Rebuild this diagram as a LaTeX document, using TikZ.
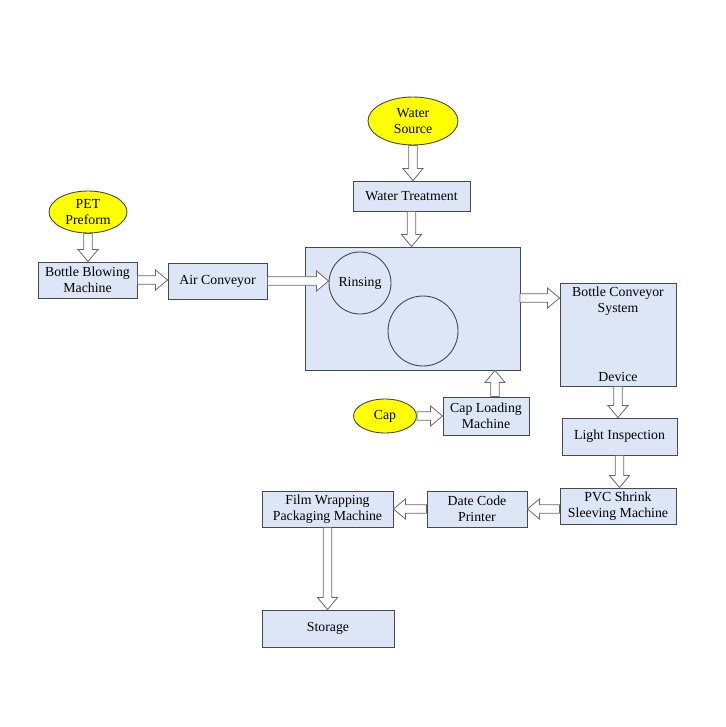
\documentclass[tikz,border=0pt]{standalone}
\usepackage{fontspec}
\setmainfont{Liberation Serif}
\usetikzlibrary{shapes.geometric}
\usetikzlibrary{calc}

\definecolor{boxfill}{RGB}{221,230,246}
\definecolor{boxline}{RGB}{72,72,72}
\definecolor{arrowline}{RGB}{105,105,105}
\definecolor{sourcefill}{RGB}{255,255,0}

\begin{document}
\begin{tikzpicture}[x=1pt,y=-1pt,
font=\fontsize{13.8}{16.5}\selectfont,
box/.style={draw=boxline,fill=boxfill,line width=0.9pt,align=center,inner sep=1pt},
source/.style={ellipse,draw=boxline,fill=sourcefill,line width=0.9pt,align=center,inner sep=0pt},
station/.style={circle,draw=boxline,line width=0.9pt,inner sep=0pt},
hollow/.style={draw=arrowline,fill=white,line width=0.8pt,line join=miter,
  to path={let \p1=(\tikztostart), \p2=(\tikztotarget),
    \n1={veclen(\x2-\x1,\y2-\y1)},
    \n2={(\x2-\x1)/\n1}, \n3={(\y2-\y1)/\n1} in
    ({\x1-(\n3)*4.3pt},{\y1+(\n2)*4.3pt})
    -- ({\x2-(\n2)*12pt-(\n3)*4.3pt},{\y2-(\n3)*12pt+(\n2)*4.3pt})
    -- ({\x2-(\n2)*12pt-(\n3)*10pt},{\y2-(\n3)*12pt+(\n2)*10pt})
    -- (\p2)
    -- ({\x2-(\n2)*12pt+(\n3)*10pt},{\y2-(\n3)*12pt-(\n2)*10pt})
    -- ({\x2-(\n2)*12pt+(\n3)*4.3pt},{\y2-(\n3)*12pt-(\n2)*4.3pt})
    -- ({\x1+(\n3)*4.3pt},{\y1-(\n2)*4.3pt}) -- cycle}}
]
\useasboundingbox (0,0) rectangle (725,727);

% preform line
\node (pet) [source,minimum width=78,minimum height=42] at (88,212) {PET\\Preform};
\node (blow) [box,minimum width=99,minimum height=36] at (87.5,280) {Bottle Blowing\\Machine};
\node (air) [box,minimum width=99,minimum height=36] at (217.5,281) {Air Conveyor};

% water
\node (src) [source,minimum width=90,minimum height=48] at (413,121) {Water\\Source};
\node (treat) [box,minimum width=117,minimum height=30] at (411.5,196) {Water Treatment};

% main block
\node (tank) [box,minimum width=215,minimum height=123] at (412.5,308.5) {};
\node (rinse) [station,minimum size=62] at (360,283) {Rinsing};
\node (fill) [station,minimum size=70] at (423,331) {};

% caps
\node (cap) [source,minimum width=63,minimum height=34] at (385,416) {Cap};
\node (load) [box,minimum width=86,minimum height=38] at (486,416) {Cap Loading\\Machine};
\coordinate (capin) at ([xshift=9pt]load.north);

% right column
\node (conv) [box,minimum width=116,minimum height=103] at (618,334.5) {};
\node (convtop) [anchor=north,align=center,inner sep=4pt] at (conv.north) {Bottle Conveyor\\System};
\node (convbot) [anchor=south,inner sep=5pt] at (conv.south) {Device};
\coordinate (tankout) at (520,298);
\node (light) [box,minimum width=115,minimum height=37] at (619.5,436.5) {Light Inspection};
\node (pvc) [box,minimum width=116,minimum height=36] at (618,506) {PVC Shrink\\Sleeving Machine};

% packing line
\node (date) [box,minimum width=100,minimum height=36] at (477,509) {Date Code\\Printer};
\node (film) [box,minimum width=131,minimum height=36] at (327.5,509) {Film Wrapping\\Packaging Machine};
\node (store) [box,minimum width=132,minimum height=37] at (328,628.5) {Storage};

% block arrows
\draw[hollow] (pet.south) to (pet.south |- blow.north);
\draw[hollow] (blow.east) to (blow.east -| air.west);
\draw[hollow] (air.east) to (air.east -| rinse.west);
\draw[hollow] (src.south) to (src.south |- treat.north);
\draw[hollow] (treat.south) to (treat.south |- tank.north);
\draw[hollow] (tankout) to (tankout -| conv.west);
\draw[hollow] (cap.east) to (cap.east -| load.west);
\draw[hollow] (capin) to (capin |- tank.south);
\draw[hollow] (conv.south) to (conv.south |- light.north);
\draw[hollow] (light.south) to (light.south |- pvc.north);
\draw[hollow] (date.east -| pvc.west) to (date.east);
\draw[hollow] (date.west) to (date.west -| film.east);
\draw[hollow] (film.south) to (film.south |- store.north);
\end{tikzpicture}
\end{document}
